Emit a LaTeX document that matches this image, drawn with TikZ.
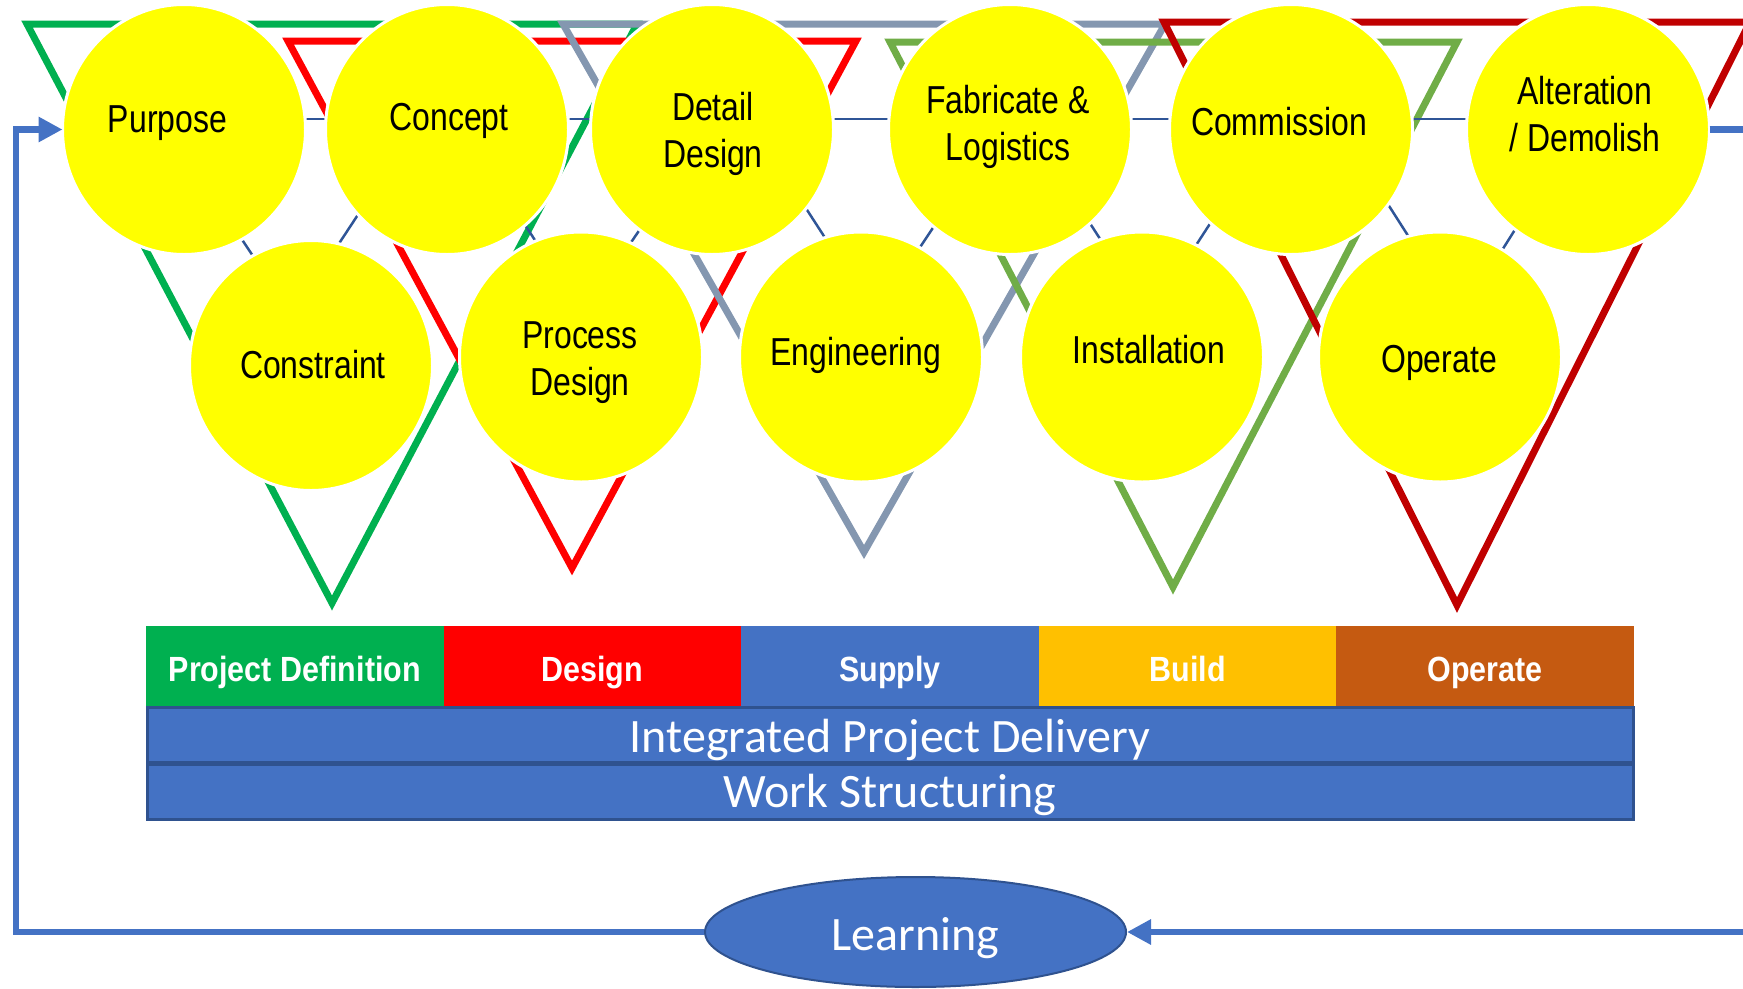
\documentclass[tikz,border=0pt]{standalone}
\usepackage{fontspec}
\setmainfont{Liberation Sans}
\newfontfamily\circfam[FakeStretch=0.82]{Liberation Sans}
\newfontfamily\bandfam[FakeStretch=0.87]{Liberation Sans}
\newfontfamily\calfam{Carlito}
\usetikzlibrary{shapes.geometric,arrows.meta}
\definecolor{cyel}{HTML}{FFFF00}
\definecolor{cthin}{HTML}{2F5597}
\definecolor{cloop}{HTML}{4472C4}
\definecolor{cbord}{HTML}{2F528F}
\definecolor{tgreen}{HTML}{00B050}
\definecolor{tred}{HTML}{FF0000}
\definecolor{tgrey}{HTML}{8497B0}
\definecolor{tlgreen}{HTML}{70AD47}
\definecolor{tdred}{HTML}{C00000}
\definecolor{bgold}{HTML}{FFC000}
\definecolor{borange}{HTML}{C55A11}
\tikzset{
  circ/.style={ellipse, fill=cyel, draw=white, line width=3pt, inner sep=0pt, outer sep=0pt,
    minimum width=243pt, minimum height=250pt},
  ctext/.style={font=\circfam\fontsize{39}{47}\selectfont, align=center, inner sep=0pt, text=black},
  tri/.style={line width=7pt, line join=miter},
  zig/.style={draw=cthin, line width=2.5pt},
  loopline/.style={draw=cloop, line width=6.5pt, -{Triangle[length=24pt,width=24pt]}},
  band/.style={minimum width=297.6pt, minimum height=80pt, inner sep=0pt, outer sep=0pt,
    text=white, font=\bandfam\bfseries\fontsize{35}{42}\selectfont, text height=36pt, text depth=6pt},
  bar/.style={fill=cloop, draw=cbord, line width=3pt, minimum width=1486pt, inner sep=0pt,
    text=white, font=\calfam\fontsize{48}{56}\selectfont},
}
\begin{document}
\begin{tikzpicture}[x=1pt,y=-1pt]
\useasboundingbox (0,0) rectangle (1743,988);
\clip (0,0) rectangle (1743,988);
% triangles
\draw[tri, draw=tgreen] (27,24) -- (637,24) -- (332,603) -- cycle;
\draw[tri, draw=tred] (288,41) -- (856,41) -- (572,568) -- cycle;
\draw[tri, draw=tgrey] (563,24) -- (1165,24) -- (864,552) -- cycle;
\draw[tri, draw=tlgreen] (890,42) -- (1457,42) -- (1173,587) -- cycle;
\draw[tri, draw=tdred] (1164,22) -- (1750,22) -- (1457,605) -- cycle;
% thin network
\coordinate (z0) at (145,93);
\coordinate (z1) at (292,315);
\coordinate (z2) at (438,93);
\coordinate (z3) at (583,313);
\coordinate (z4) at (732,94);
\coordinate (z5) at (875,315);
\coordinate (z6) at (1014,106);
\coordinate (z7) at (1150,316);
\coordinate (z8) at (1306,76);
\coordinate (z9) at (1460,317);
\coordinate (z10) at (1601,93);
\coordinate (h1) at (184,119);
\coordinate (h2) at (1588,119);
\draw[zig] (z0) -- (z1) -- (z2) -- (z3) -- (z4) -- (z5) -- (z6) -- (z7) -- (z8) -- (z9) -- (z10);
\draw[zig] (h1) -- (h2);
% circles
\node[circ] (purpose) at (184,129.5) {};
\node[circ] (concept) at (447,129.5) {};
\node[circ] (detail) at (712,129.5) {};
\node[circ] (fabric) at (1010,129.5) {};
\node[circ] (commis) at (1291,129.5) {};
\node[circ] (alter) at (1588,129.5) {};
\node[circ] (constr) at (311,365.5) {};
\node[circ] (procd) at (581,357) {};
\node[circ] (engin) at (861,357) {};
\node[circ] (install) at (1142,357) {};
\node[circ] (operc) at (1440,357) {};
% circle texts
\node[ctext] (t1) at (167.5,122.6) {\strut Purpose};
\node[ctext] (t2) at (449,120.6) {\strut Concept};
\node[ctext] (t3) at (713,134.1) {\strut Detail\\\strut Design};
\node[ctext] (t4) at (1008,127.1) {\strut Fabricate \&\\\strut Logistics};
\node[ctext] (t5) at (1279,125.6) {\strut Commission};
\node[ctext] (t6) at (1585,118.1) {\strut Alteration\\\strut / Demolish};
\node[ctext] (t7) at (313,368.6) {\strut Constraint};
\node[ctext] (t8) at (580,362.1) {\strut Process\\\strut Design};
\node[ctext] (t9) at (856,355.6) {\strut Engineering};
\node[ctext] (t10) at (1149,353.6) {\strut Installation};
\node[ctext] (t11) at (1439,362.6) {\strut Operate};
% phase band
\node[band, fill=tgreen] (b1) at (294.8,666) {Project Definition};
\node[band, fill=tred] (b2) at (592.4,666) {Design};
\node[band, fill=cloop] (b3) at (890,666) {Supply};
\node[band, fill=bgold] (b4) at (1187.6,666) {Build};
\node[band, fill=borange] (b5) at (1485.2,666) {Operate};
% bars
\node[bar, minimum height=55pt, text height=40pt, text depth=5pt] (ipd) at (890,734.5) {Integrated Project Delivery};
\node[bar, minimum height=55pt, text height=36pt, text depth=6pt] (ws) at (890,792) {Work Structuring};
% learning
\node[ellipse, fill=cloop, draw=cbord, line width=2pt, inner sep=0pt, minimum width=421pt, minimum height=110pt,
  text=white, font=\calfam\fontsize{48}{56}\selectfont, text height=40pt, text depth=4pt] (learn) at (915.5,932) {Learning};
% feedback loop
\draw[loopline] (learn.west) -- (16,932) |- (purpose.west);
\draw[loopline] (alter.east) -- (1775,129.5) |- (learn.east);
\end{tikzpicture}
\end{document}
